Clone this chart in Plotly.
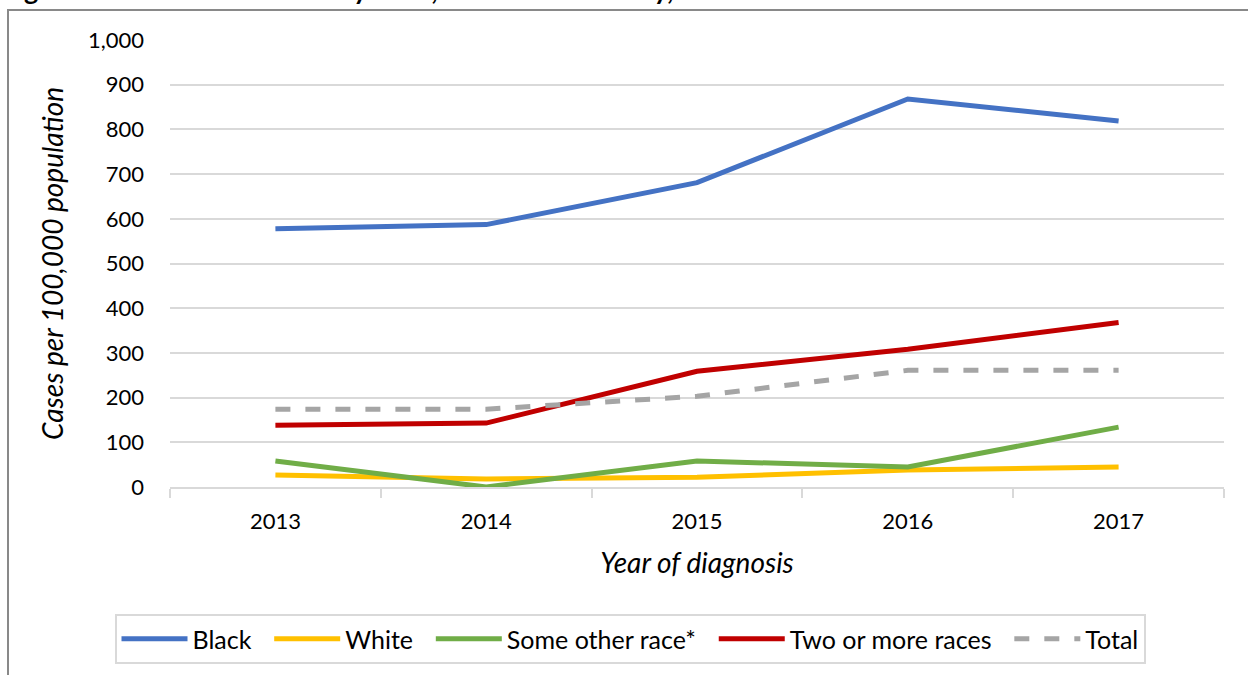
import plotly.graph_objects as go

years = ["2013", "2014", "2015", "2016", "2017"]
black = [578, 587, 681, 868, 819]
white = [27, 18, 22, 38, 45]
other = [58, 0, 58, 45, 134]
two_more = [138, 143, 259, 308, 368]
total = [174, 174, 203, 261, 261]

series = [
    ("Black", black, "#4472C4", "solid"),
    ("White", white, "#FFC000", "solid"),
    ("Some other race*", other, "#70AD47", "solid"),
    ("Two or more races", two_more, "#C00000", "solid"),
    ("Total", total, "#A5A5A5", "dash"),
]

FONT = "Lato"
fig = go.Figure()
for i, (name, vals, color, dash) in enumerate(series):
    pad = "&nbsp;&nbsp;" if i < len(series) - 1 else ""
    fig.add_trace(go.Scatter(x=years, y=vals, name=name + pad, mode="lines",
                             line=dict(color=color, width=5, dash=dash)))

W, H = 1248, 675
L, R, T, B = 170, 24, 40, 187
pw, ph = W - L - R, H - T - B

def px(x):
    return (x - L) / pw

def py(y):
    return (H - B - y) / ph

fig.update_layout(
    width=W, height=H,
    margin=dict(l=L, r=R, t=T, b=B),
    paper_bgcolor="white", plot_bgcolor="white",
    font=dict(family=FONT, size=23, color="black"),
    showlegend=True,
    legend=dict(orientation="h", x=px(630), xanchor="center", y=py(639), yanchor="middle",
                bordercolor="#D9D9D9", borderwidth=2, font=dict(size=25, family=FONT),
                itemwidth=66, tracegroupgap=0),
    xaxis=dict(type="category", range=[-0.5, 4.5], showgrid=False, showline=True,
               linecolor="#D9D9D9", linewidth=2,
               ticks="outside", tickson="boundaries", ticklen=9, tickcolor="#D9D9D9", tickwidth=2,
               tickfont=dict(size=22), ticklabelstandoff=14,
               title=dict(text="<i>Year of diagnosis</i>", font=dict(size=28), standoff=20)),
    yaxis=dict(range=[0, 1000], dtick=100, tickformat=",", showgrid=True, gridcolor="#D9D9D9",
               gridwidth=2, zeroline=False, showline=False, ticks="", tickfont=dict(size=22),
               ticklabelstandoff=25,
               title=dict(text="<i>Cases per 100,000 population</i>", font=dict(size=28), standoff=16)),
    shapes=[dict(type="rect", xref="paper", yref="paper", x0=px(8), x1=px(1262), y0=py(690), y1=py(10),
                 line=dict(color="#898989", width=2), layer="below")],
    annotations=[dict(text="<b>Figure 10: Gonorrhea Rates by Race, Saint Louis County, 2013 to 2017</b>",
                      xref="paper", yref="paper", x=px(0), y=py(8), xanchor="left", yanchor="bottom",
                      showarrow=False, font=dict(size=27, family=FONT))],
)

fig.write_html("out.html")
